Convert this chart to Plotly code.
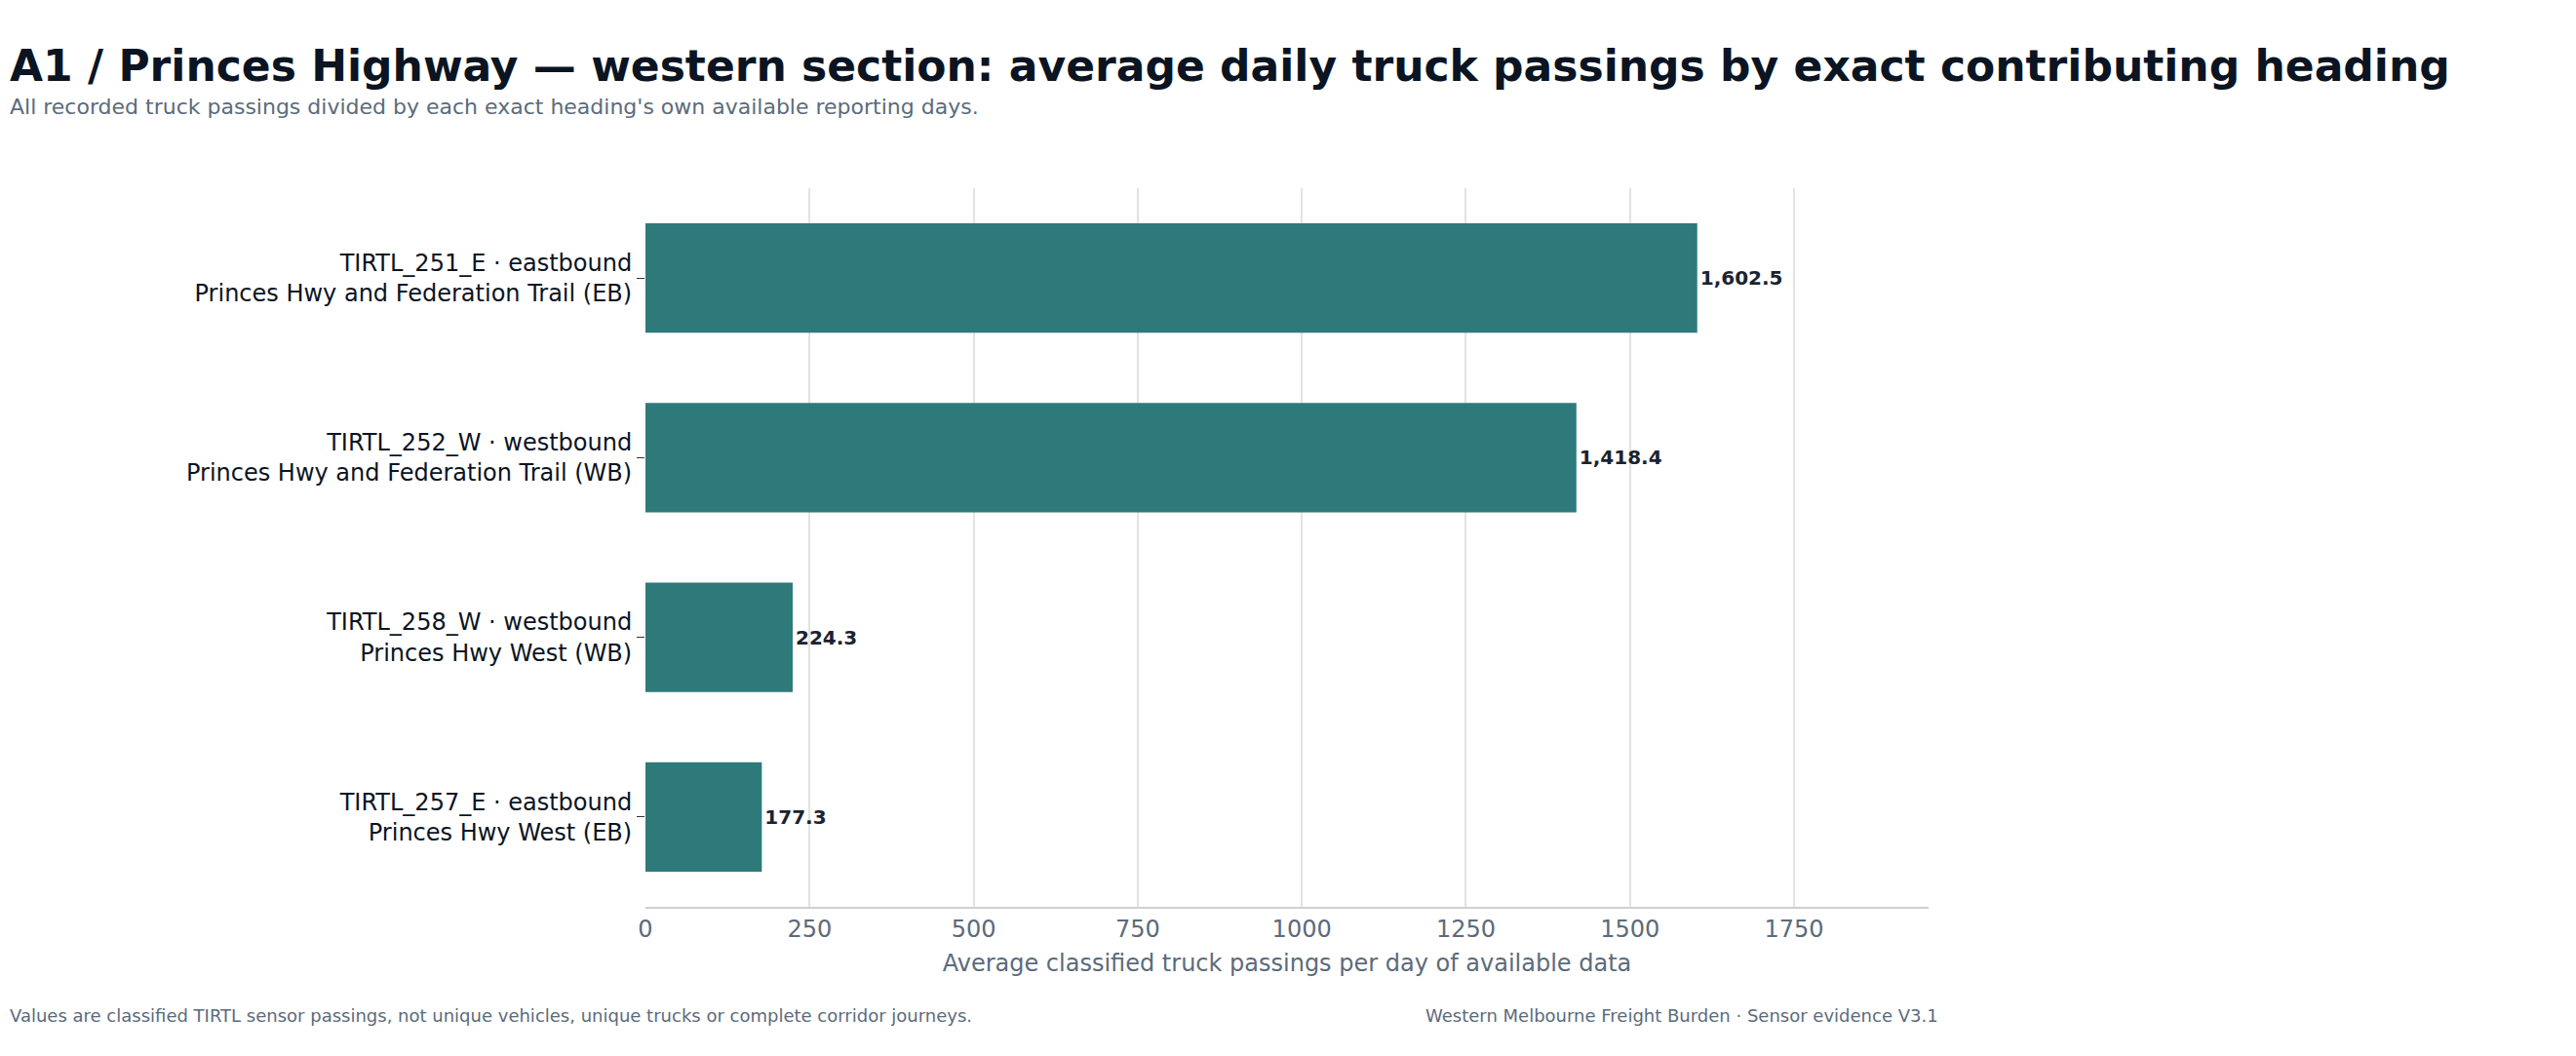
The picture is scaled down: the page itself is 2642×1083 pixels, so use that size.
import plotly.graph_objects as go

# Data
headings = [
    "TIRTL_251_E · eastbound<br>Princes Hwy and Federation Trail (EB)",
    "TIRTL_252_W · westbound<br>Princes Hwy and Federation Trail (WB)",
    "TIRTL_258_W · westbound<br>Princes Hwy West (WB)",
    "TIRTL_257_E · eastbound<br>Princes Hwy West (EB)",
]
avg_daily = [1602.5, 1418.4, 224.3, 177.3]
x_ticks = [0, 250, 500, 750, 1000, 1250, 1500, 1750]

W, H = 2642, 1083
L, R, T, B = 654, 672, 185, 161

fig = go.Figure()
fig.add_trace(go.Bar(
    x=avg_daily,
    y=headings,
    orientation='h',
    width=0.61,
    marker=dict(color='#2e7a7b', line=dict(width=0)),
    texttemplate='%{x:,.1f}',
    textposition='outside',
    cliponaxis=False,
    textfont=dict(size=20, color='#1a2330', family='DejaVu Sans', weight='bold'),
))

fig.update_layout(
    width=W, height=H,
    margin=dict(l=L, r=R, t=T, b=B),
    plot_bgcolor='white',
    paper_bgcolor='white',
    font=dict(family='DejaVu Sans', color='#0b1422'),
    showlegend=False,
    xaxis=dict(
        range=[0, 1955],
        tickvals=x_ticks,
        tickfont=dict(size=24, color='#5b6b7b'),
        title=dict(text='Average classified truck passings per day of available data',
                   font=dict(size=24, color='#5b6b7b'), standoff=14),
        showgrid=True, gridcolor='#e3e3e3', gridwidth=1.5,
        zeroline=False,
        showline=True, linecolor='#cfcfcf', linewidth=1.5,
        layer='above traces',
        ticks='',
    ),
    yaxis=dict(
        autorange='reversed',
        tickfont=dict(size=24, color='#0b1422'),
        ticks='outside', ticklen=8, tickcolor='#333333',
        showgrid=False, zeroline=False, showline=False,
    ),
    annotations=[
        dict(text='<b>A1 / Princes Highway — western section: average daily truck passings by exact contributing heading</b>',
             xref='paper', yref='paper', x=-L / (W - L - R), y=1 + (T - 59) / (H - T - B),
             xanchor='left', yanchor='middle', showarrow=False,
             font=dict(size=44, color='#0b1422')),
        dict(text="All recorded truck passings divided by each exact heading's own available reporting days.",
             xref='paper', yref='paper', x=-L / (W - L - R), y=1 + (T - 101) / (H - T - B),
             xanchor='left', yanchor='middle', showarrow=False,
             font=dict(size=22, color='#5b6b7b')),
        dict(text='Values are classified TIRTL sensor passings, not unique vehicles, unique trucks or complete corridor journeys.',
             xref='paper', yref='paper', x=-L / (W - L - R), y=-(1033 - (H - B)) / (H - T - B),
             xanchor='left', yanchor='middle', showarrow=False,
             font=dict(size=18, color='#5b6b7b')),
        dict(text='Western Melbourne Freight Burden · Sensor evidence V3.1',
             xref='paper', yref='paper', x=(1982 - L) / (W - L - R), y=-(1033 - (H - B)) / (H - T - B),
             xanchor='right', yanchor='middle', showarrow=False,
             font=dict(size=18, color='#5b6b7b')),
    ],
)

fig.write_html("out.html")
